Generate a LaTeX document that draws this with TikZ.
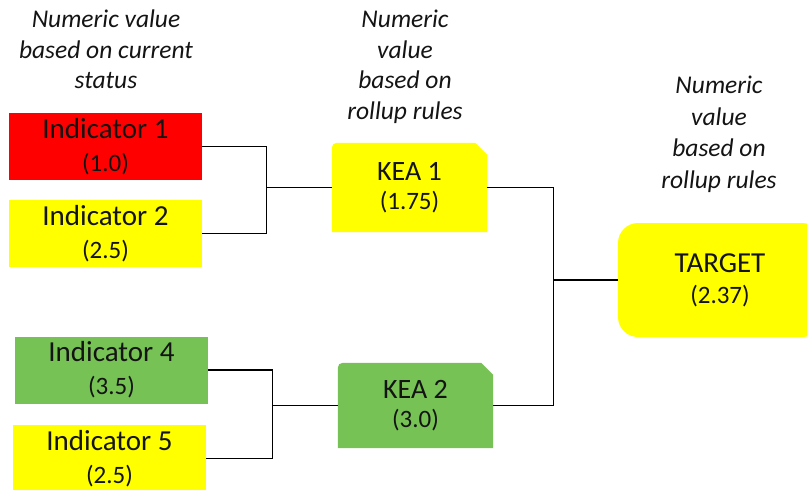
\documentclass[tikz,border=0pt]{standalone}
\usepackage{fontspec}
\setmainfont{Carlito}
\usetikzlibrary{calc,backgrounds}
\definecolor{cred}{RGB}{255,0,0}
\definecolor{cyellow}{RGB}{255,255,0}
\definecolor{cgreen}{RGB}{118,194,84}
\definecolor{ctext}{RGB}{20,20,20}
\begin{document}
\begin{tikzpicture}[x=1pt,y=-1pt,
  indbox/.style={rectangle, minimum width=193pt, minimum height=67pt, inner sep=0pt,
    align=center, text=ctext, font=\fontsize{29}{33}\selectfont},
  keabox/.style={rectangle, minimum width=155pt, inner sep=0pt,
    align=center, text=ctext, font=\fontsize{28}{29}\selectfont},
  tgtbox/.style={rectangle, rounded corners=20pt, fill=cyellow, minimum width=204pt,
    minimum height=114pt, inner sep=0pt, align=center, text=ctext,
    font=\fontsize{29}{31}\selectfont},
  note/.style={align=center, anchor=north, inner sep=0pt, text=ctext,
    font=\fontsize{25.5}{30.5}\selectfont\itshape},
  conn/.style={draw=black, line width=1.2pt}]
\useasboundingbox (0,0) rectangle (807,490);

% notes
\node[note] (n1) at (106,10) {Numeric value\\based on current\\status};
\node[note] (n2) at (405,10) {Numeric\\value\\based on\\rollup rules};
\node[note, font=\fontsize{25.5}{31.5}\selectfont\itshape] (n3) at (719,76) {Numeric\\value\\based on\\rollup rules};

% indicators
\node[indbox, fill=cred] (ind1) at (105.5,146.5) {Indicator 1\\{\fontsize{25}{33}\selectfont (1.0)}};
\node[indbox, fill=cyellow] (ind2) at (105.5,233.5) {Indicator 2\\{\fontsize{25}{33}\selectfont (2.5)}};
\node[indbox, fill=cgreen] (ind4) at (111.5,370) {Indicator 4\\{\fontsize{25}{33}\selectfont (3.5)}};
\node[indbox, fill=cyellow] (ind5) at (109.5,458.5) {Indicator 5\\{\fontsize{25}{33}\selectfont (2.5)}};

% KEAs
\node[keabox, minimum height=89pt] (kea1) at (409.5,187.5) {KEA 1\\{\fontsize{25}{29}\selectfont (1.75)}};
\node[keabox, minimum height=85pt] (kea2) at (415.5,405.5) {KEA 2\\{\fontsize{25}{29}\selectfont (3.0)}};

\begin{scope}[on background layer]
  \foreach \k/\c in {kea1/cyellow, kea2/cgreen}{
    \fill[\c] (\k.south west) -- ($(\k.north west)+(0,11)$)
      .. controls (\k.north west) .. ($(\k.north west)+(11,0)$)
      -- ($(\k.north east)+(-12,0)$) -- ($(\k.north east)+(0,12)$)
      -- (\k.south east) -- cycle;
  }
\end{scope}

% target
\node[tgtbox] (tgt) at (720,280) {TARGET\\{\fontsize{25}{31}\selectfont (2.37)}};

% junctions
\coordinate (j1) at ($(kea1.west)+(-65,0)$);
\coordinate (j2) at ($(kea2.west)+(-65,0)$);
\coordinate (j3) at ($(tgt.west)+(-64,0)$);

% connectors
\draw[conn] (ind1.east) -| (j1);
\draw[conn] (ind2.east) -| (j1);
\draw[conn] (j1) -- (kea1.west);
\draw[conn] (ind4.east) -| (j2);
\draw[conn] (ind5.east) -| (j2);
\draw[conn] (j2) -- (kea2.west);
\draw[conn] (kea1.east) -| (j3);
\draw[conn] (kea2.east) -| (j3);
\draw[conn] (j3) -- (tgt.west);
\end{tikzpicture}
\end{document}
